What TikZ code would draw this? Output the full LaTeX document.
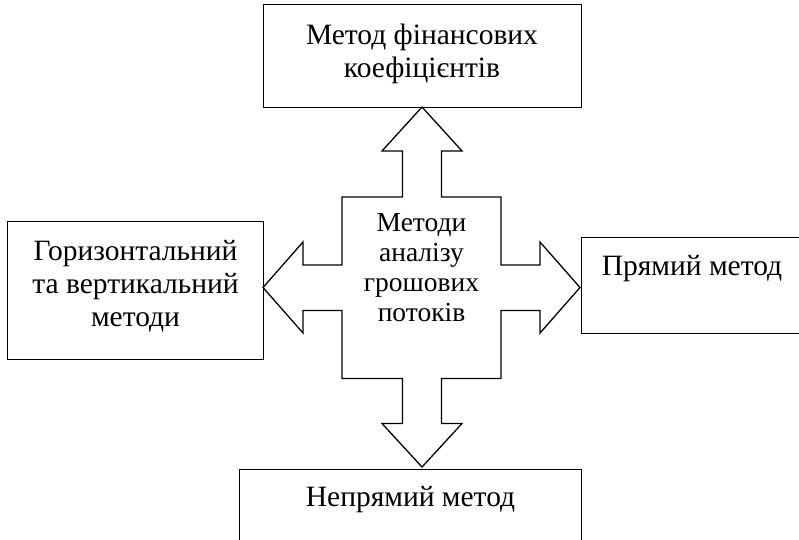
\documentclass[tikz,border=0pt]{standalone}
\usepackage{fontspec}
\setmainfont{Liberation Serif}
\begin{document}
\begin{tikzpicture}[x=1pt,y=-1pt,
  frame/.style={draw=black, line width=1.3pt},
  outertext/.style={inner sep=0pt, align=center, font=\fontsize{29.5}{33}\selectfont},
  centertext/.style={inner sep=0pt, align=center, font=\fontsize{27.5}{30}\selectfont}]
\useasboundingbox (0,0) rectangle (799,539);
% boxes
\node[frame, inner sep=0pt, minimum width=318pt, minimum height=103pt, anchor=north west] (topbox) at (263,4) {};
\node[frame, inner sep=0pt, minimum width=256pt, minimum height=138pt, anchor=north west] (leftbox) at (7,221) {};
\node[frame, inner sep=0pt, minimum width=230pt, minimum height=96pt, anchor=north west] (rightbox) at (581,237) {};
\node[frame, inner sep=0pt, minimum width=342pt, minimum height=80pt, anchor=north west] (bottombox) at (239,469) {};
% cross arrow
\coordinate (ttip) at (422,107);
\coordinate (btip) at (422,467);
\coordinate (ltip) at (263,287.5);
\coordinate (rtip) at (580,287.5);
\draw[frame, line join=miter] (ttip) -- (462,151) -- (441.5,151) -- (441.5,197) -- (501,197) -- (501,265)
  -- (540,265) -- (540,242) -- (rtip) -- (540,333) -- (540,310.5) -- (501,310.5)
  -- (501,378.5) -- (441.5,378.5) -- (441.5,423.5) -- (462,423.5) -- (btip) -- (382,423.5)
  -- (402.5,423.5) -- (402.5,378.5) -- (342,378.5) -- (342,310.5) -- (303,310.5) -- (303,333)
  -- (ltip) -- (303,242) -- (303,265) -- (342,265) -- (342,197) -- (402.5,197) -- (402.5,151)
  -- (382,151) -- cycle;
% texts
\node[outertext] (toptext) at (422,54) {Метод фінансових\\коефіцієнтів};
\node[outertext] (lefttext) at (135.5,286) {Горизонтальний\\та вертикальний\\методи};
\node[outertext, anchor=base] (righttext) at (692,275) {Прямий метод};
\node[outertext, anchor=base] (bottomtext) at (410.5,506.7) {Непрямий метод};
\node[centertext] (centertext) at (421.5,268) {Методи\\аналізу\\грошових\\потоків};
\end{tikzpicture}
\end{document}
